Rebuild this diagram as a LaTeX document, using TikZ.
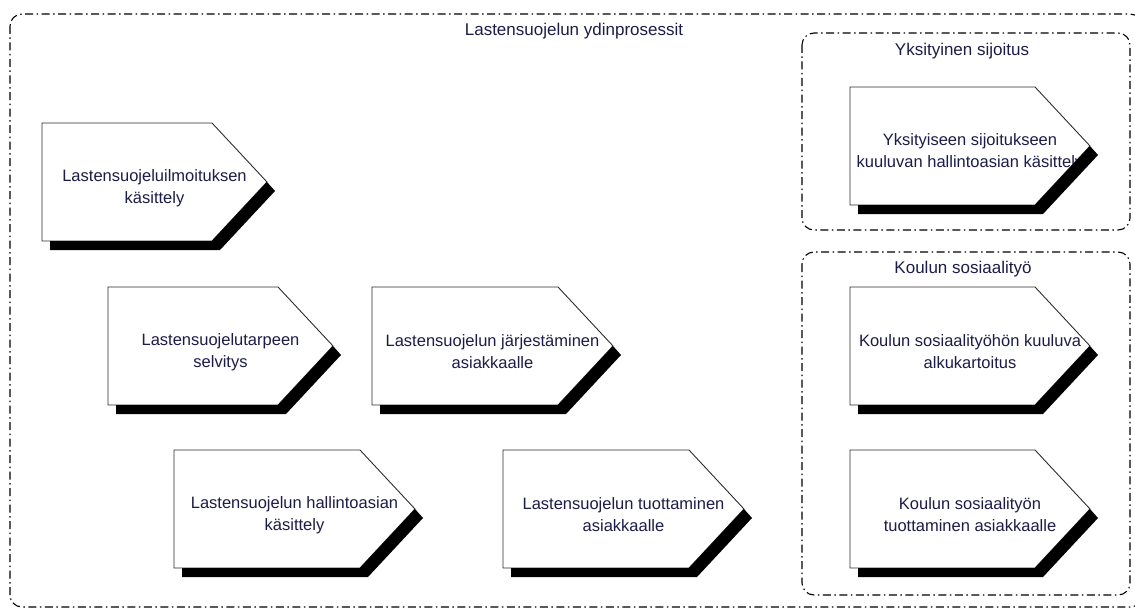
\documentclass[tikz,border=0pt]{standalone}
\usepackage{fontspec}
\setmainfont{Liberation Sans}
\usetikzlibrary{calc}

\definecolor{tekstisini}{RGB}{28,28,72}
\definecolor{reuna}{RGB}{45,45,45}

\tikzset{
  ryhma/.style={draw=black, line width=1.1pt, rounded corners=12pt,
    dash pattern=on 8pt off 3.5pt on 1.5pt off 3.5pt},
  otsikko/.style={text=tekstisini, font=\fontsize{17}{22}\selectfont, inner sep=0pt},
  prosessi/.style={draw=reuna, fill=white, line width=0.9pt},
  varjo/.style={fill=black},
  prostxt/.style={text=tekstisini, align=center, font=\fontsize{16.5}{22}\selectfont, inner sep=0pt}
}

% #1 nimi, #2 x, #3 y, #4 leveys, #5 teksti
\newcommand{\prosessilaatikko}[5]{%
  \path[prosessi] (#2,#3) -- ++(#4,0) -- ++(55,59) -- ++(-55,59) -- ++(-#4,0) -- cycle;
  \node[prostxt] (#1) at ($(#2,#3)+({(#4+55)/2},65)$) {#5};
  \fill[varjo] ($(#2,#3)+({#4+55},59)$) -- ++(8,9) -- ++(-55,59) -- ++(-#4,0)
    -- ++(0,-9) -- ++({#4-8},0) -- cycle;
}

\begin{document}
\begin{tikzpicture}[x=1pt,y=-1pt]
\useasboundingbox (0,0) rectangle (1135,610);

% ryhmat
\draw[ryhma] (10,14) rectangle (1142,607);
\node[otsikko] (ydin) at (574,31) {Lastensuojelun ydinprosessit};
\draw[ryhma] (802,33) rectangle (1130,230);
\node[otsikko] (yksityinen) at (962,51) {Yksityinen sijoitus};
\draw[ryhma] (802,252) rectangle (1130,595);
\node[otsikko] (koulu) at (963,269) {Koulun sosiaalityö};

% prosessit
\prosessilaatikko{ilmoitus}{42}{123}{170}{Lastensuojeluilmoituksen\\käsittely}
\prosessilaatikko{selvitys}{108}{287}{170}{Lastensuojelutarpeen\\selvitys}
\prosessilaatikko{jarjestaminen}{372}{287}{186}{Lastensuojelun järjestäminen\\asiakkaalle}
\prosessilaatikko{hallinto}{174}{450}{186}{Lastensuojelun hallintoasian\\käsittely}
\prosessilaatikko{tuottaminen}{503}{450}{186}{Lastensuojelun tuottaminen\\asiakkaalle}
\prosessilaatikko{sijoitus}{850}{87}{185}{Yksityiseen sijoitukseen\\kuuluvan hallintoasian käsittely}
\prosessilaatikko{alkukartoitus}{850}{287}{185}{Koulun sosiaalityöhön kuuluva\\alkukartoitus}
\prosessilaatikko{koulutuotto}{850}{450}{185}{Koulun sosiaalityön\\tuottaminen asiakkaalle}
\end{tikzpicture}
\end{document}
